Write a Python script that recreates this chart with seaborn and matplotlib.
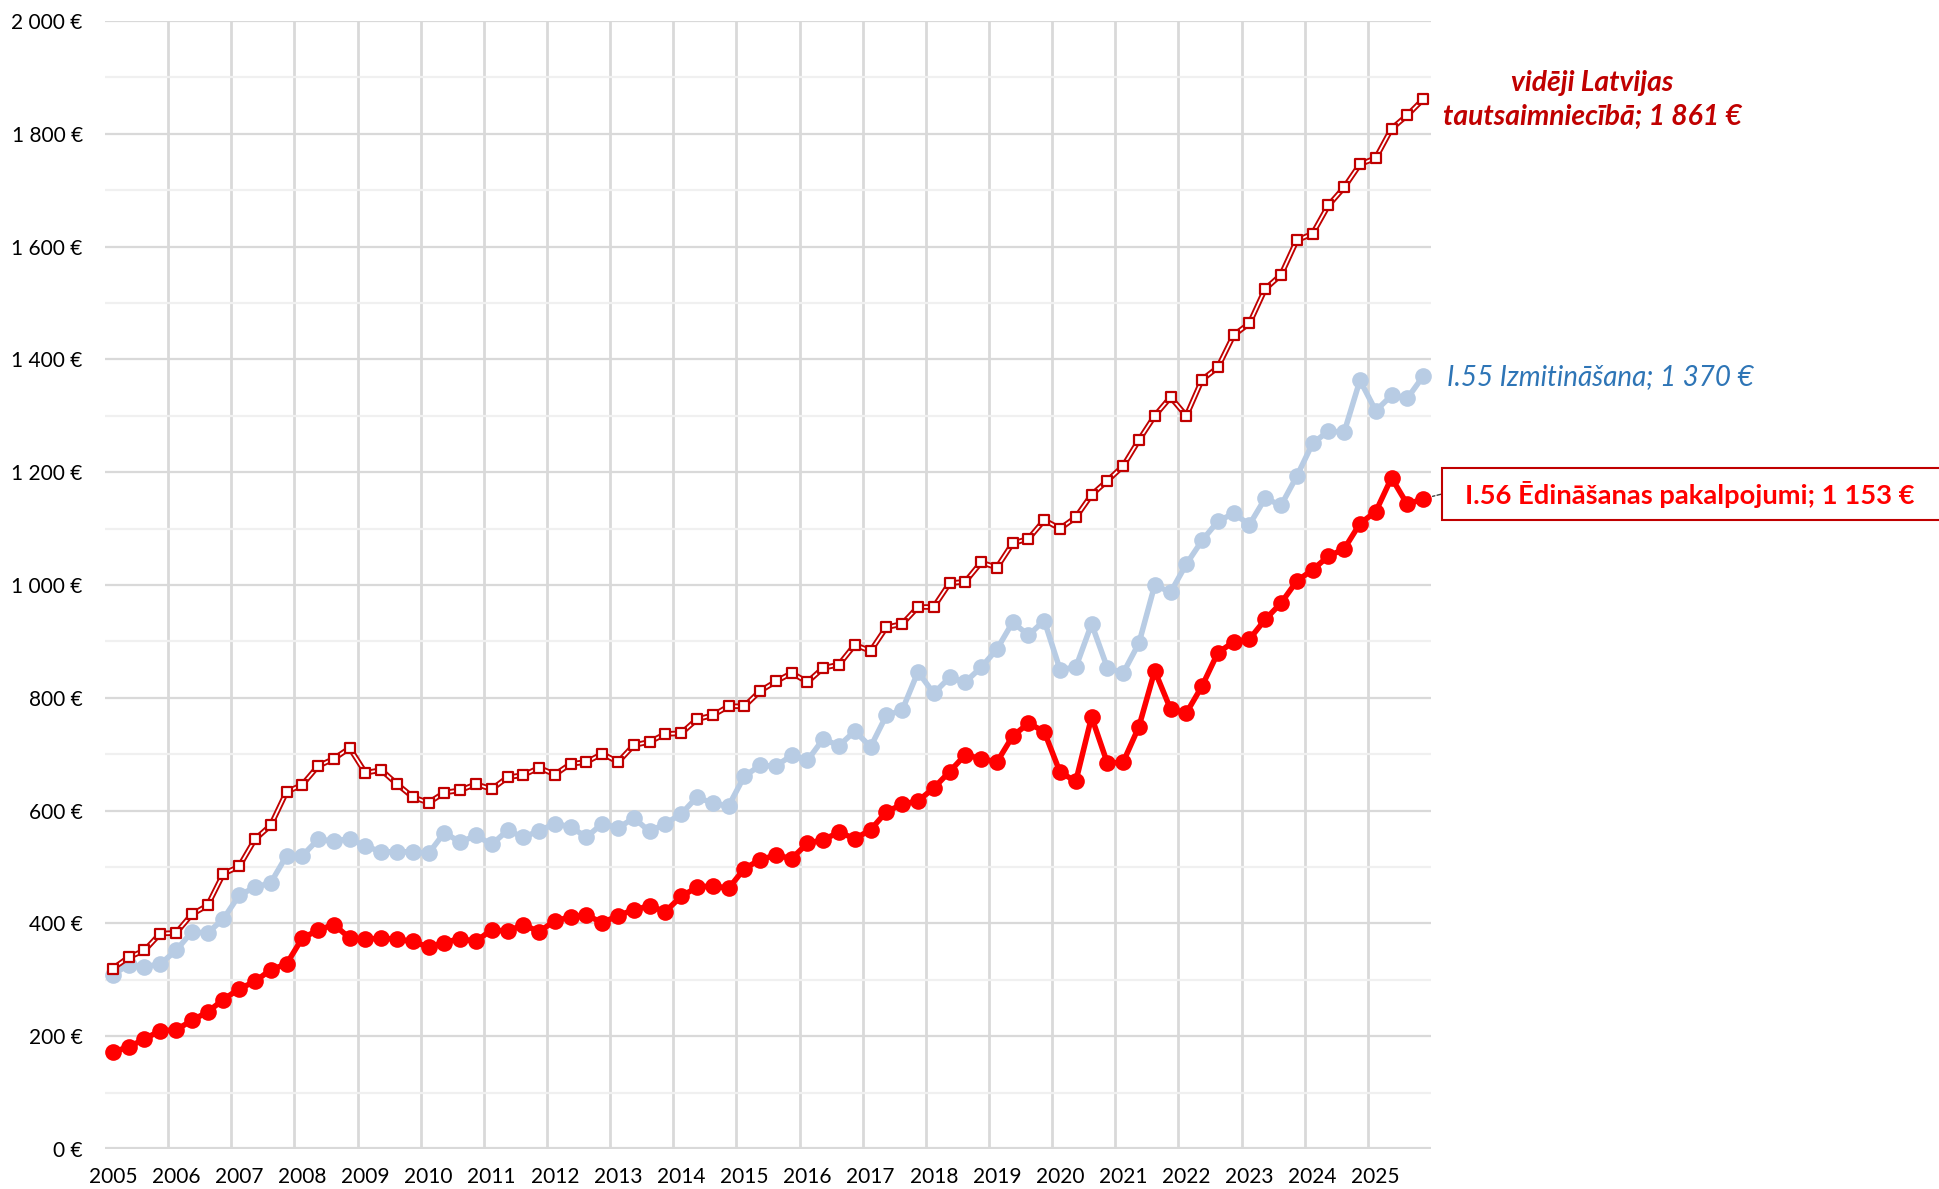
import numpy as np
import pandas as pd
import matplotlib
matplotlib.use('Agg')
import matplotlib.pyplot as plt
import matplotlib.ticker as mticker
from matplotlib.patches import Rectangle
import seaborn as sns

# quarterly data, 2005 Q1 .. 2025 Q4
years = list(range(2005, 2026))
quarters = [f"{y} Q{q}" for y in years for q in range(1, 5)]

avg_latvia = [320, 340, 352, 382, 383, 416, 432, 488, 501, 549, 574, 633, 646, 679, 692, 711,
              667, 672, 647, 624, 614, 632, 636, 647, 638, 659, 663, 676, 664, 683,
              686, 701, 686, 716, 722, 736, 737, 762, 769, 785, 785,
              812, 829, 844, 828, 853, 859, 894, 883, 925, 931, 961, 961,
              1003,
              1006, 1040, 1031, 1074, 1082, 1115, 1100, 1120, 1160, 1185, 1211, 1257, 1300,
              1333, 1300, 1364, 1386, 1443, 1464, 1525, 1550, 1611, 1623, 1673, 1705, 1746, 1757, 1809,
              1833, 1861]

accommodation = [309, 327, 323, 328, 352, 385, 383, 408, 450, 464, 472, 520, 520, 549, 546, 550,
                 537, 527, 527, 527, 524, 561, 544, 556, 540, 565, 553, 564, 577, 571,
                 553, 577, 569, 587, 563, 577, 594, 624, 613, 608, 661,
                 680, 679, 698, 689, 727, 715, 741, 713, 769, 778, 846, 808,
                 836,
                 828, 854, 886, 934, 911, 937, 850, 854, 931, 853, 844, 897, 1000,
                 987, 1037, 1079, 1113, 1127, 1107, 1154, 1141, 1193, 1251, 1273, 1271, 1363, 1309, 1336,
                 1331, 1370]

food_service = [172, 181, 195, 210, 211, 228, 243, 265, 284, 297, 318, 328, 374, 388, 398, 374,
                372, 374, 372, 368, 358, 366, 373, 368, 389, 386, 398, 385, 405, 411,
                415, 401, 414, 424, 431, 421, 448, 464, 467, 462, 497,
                513, 521, 515, 542, 548, 562, 550, 566, 598, 611, 617, 640,
                669,
                699, 692, 686, 732, 755, 740, 668, 652, 766, 684, 686, 749, 848,
                780, 773, 821, 880, 899, 904, 939, 968, 1007, 1027, 1051, 1064, 1109, 1130, 1190,
                1143, 1153]

df = pd.DataFrame({'quarter': quarters,
                   'i': np.arange(len(quarters)),
                   'avg': avg_latvia,
                   'acc': accommodation,
                   'food': food_service})

sns.set_theme(style='white')
plt.rcParams['font.family'] = ['Lato', 'DejaVu Sans']

fig = plt.figure(figsize=(19.39, 11.89), dpi=100)
ax = fig.add_axes([105/1939, 40/1189, 1326/1939, 1128/1189])

DARKRED = '#c00000'
BLUE_LINE = '#b8cce4'
RED = '#ff0000'

# series
sns.lineplot(data=df, x='i', y='food', ax=ax, color=RED, lw=4, marker='o',
             markersize=12, markeredgewidth=0, zorder=3)
sns.lineplot(data=df, x='i', y='acc', ax=ax, color=BLUE_LINE, lw=4, marker='o',
             markersize=12, markeredgewidth=0, zorder=3)
sns.lineplot(data=df, x='i', y='avg', ax=ax, color=DARKRED, lw=4, zorder=4)
sns.lineplot(data=df, x='i', y='avg', ax=ax, color='white', lw=1.3, zorder=5)
sns.scatterplot(data=df, x='i', y='avg', ax=ax, marker='s', s=50, color='white',
                edgecolor=DARKRED, linewidth=1.6, zorder=6)

# axes / grid
ax.set_xlim(-0.5, len(quarters) - 0.5)
ax.set_ylim(0, 2000)
ax.set_xlabel('')
ax.set_ylabel('')
for s in ax.spines.values():
    s.set_visible(False)

ax.yaxis.set_major_locator(mticker.MultipleLocator(200))
ax.yaxis.set_minor_locator(mticker.MultipleLocator(100))
ax.yaxis.set_major_formatter(mticker.FuncFormatter(
    lambda v, p: f"{int(v):,} €".replace(',', ' ')))
ax.grid(axis='y', which='major', color='#d9d9d9', lw=1.6, zorder=0)
ax.grid(axis='y', which='minor', color='#f0f0f0', lw=1.6, zorder=0)

ax.set_xticks([4 * k for k in range(len(years))])
ax.set_xticklabels([str(y) for y in years])
ax.xaxis.set_minor_locator(mticker.FixedLocator([4 * k - 0.5 for k in range(1, len(years))]))
ax.grid(axis='x', which='minor', color='#d9d9d9', lw=2, zorder=0)
ax.grid(axis='x', which='major', visible=False)
ax.axhline(0, color='#d9d9d9', lw=3, zorder=1)

ax.tick_params(axis='both', which='both', length=0)
ax.tick_params(axis='x', labelsize=15, pad=13, colors='#000000')
ax.tick_params(axis='y', labelsize=15, pad=16, colors='#000000')
ax.set_axisbelow(True)

# labels at the right
fig.text(0.8210, 0.9159, 'vidēji Latvijas\ntautsaimniecībā; 1 861 €', color=DARKRED,
         fontsize=20.3, fontweight='bold', fontstyle='italic', ha='center', va='center',
         linespacing=1.4)
fig.text(0.7463, 0.6829, 'I.55 Izmitināšana; 1 370 €', color='#2e75b6',
         fontsize=20, fontstyle='italic', ha='left', va='center')

box_l, box_b = 1442/1939, 1 - 520/1189
fig.patches.append(Rectangle((box_l, box_b), 1 - box_l + 0.01, 52/1189,
                             transform=fig.transFigure, facecolor='white',
                             edgecolor=DARKRED, lw=1.5))
fig.text(0.8717, 1 - 494/1189, 'I.56 Ēdināšanas pakalpojumi; 1 153 €', color=RED,
         fontsize=19.7, fontweight='bold', ha='center', va='center')
ax.annotate('', xy=(len(quarters) - 1, food_service[-1]), xytext=(box_l, 1 - 494/1189),
            textcoords='figure fraction',
            arrowprops=dict(arrowstyle='-', linestyle='--', color='#404040', lw=1,
                            shrinkA=0, shrinkB=7))

fig.savefig('out.png', dpi=100)
